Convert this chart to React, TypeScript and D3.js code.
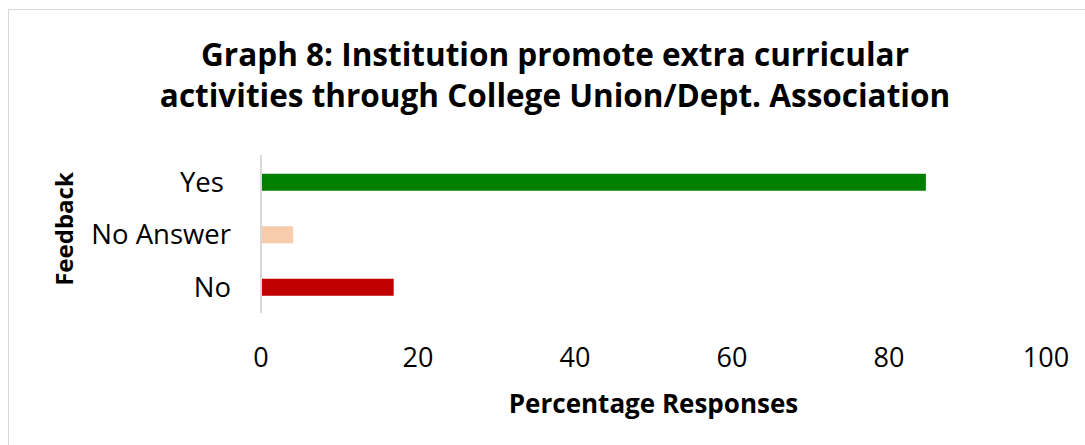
import React from "react";
import * as d3 from "d3";

const categories = ["Yes ", "No Answer", "No"];
const values = [84.7, 4.1, 16.9];
const colors = ["#008000", "#F8CBAD", "#C00000"];
const xTicks = [0, 20, 40, 60, 80, 100];
const titleLines = [
  "Graph 8: Institution promote extra curricular",
  "activities through College Union/Dept. Association",
];
const xTitle = "Percentage Responses";
const yTitle = "Feedback";

const W = 1085;
const H = 445;
const FONT = "'Open Sans', sans-serif";

export default function App() {
  const x = d3.scaleLinear().domain([0, 100]).range([261, 1046]);
  const y = d3
    .scaleBand<string>()
    .domain(categories)
    .range([156, 313.5])
    .paddingInner(0.676)
    .paddingOuter(0.338);

  return (
    <svg
      width={W}
      height={H}
      style={{ position: "absolute", left: 0, top: 0, background: "#fff" }}
      fontFamily={FONT}
    >
      <rect x={8.5} y={9.5} width={W + 20} height={H + 20} fill="#fff" stroke="#d9d9d9" strokeWidth={1} />
      {titleLines.map((t, i) => (
        <text
          key={i}
          x={555}
          y={66 + i * 41}
          textAnchor="middle"
          fontSize={31.5}
          fontWeight="bold"
          fill="#000"
        >
          {t}
        </text>
      ))}
      {categories.map((c, i) => (
        <rect
          key={c}
          x={x(0)}
          y={y(c)!}
          width={x(values[i]) - x(0)}
          height={y.bandwidth()}
          fill={colors[i]}
        />
      ))}
      <line x1={x(0)} x2={x(0)} y1={155} y2={313} stroke="#d9d9d9" strokeWidth={2} />
      {categories.map((c) => (
        <text
          key={c}
          x={231}
          y={y(c)! + y.bandwidth() / 2}
          dy="0.35em"
          textAnchor="end"
          fontSize={27.5}
          fill="#000"
          style={{ whiteSpace: "pre" }}
        >
          {c}
        </text>
      ))}
      {xTicks.map((t) => (
        <text key={t} x={x(t)} y={367} textAnchor="middle" fontSize={27} fill="#000">
          {t}
        </text>
      ))}
      <text x={(x(0) + x(100)) / 2} y={413} textAnchor="middle" fontSize={26} fontWeight="bold" fill="#000">
        {xTitle}
      </text>
      <text
        transform={`translate(73, 229) rotate(-90)`}
        textAnchor="middle"
        fontSize={24}
        fontWeight="bold"
        fill="#000"
      >
        {yTitle}
      </text>
    </svg>
  );
}
